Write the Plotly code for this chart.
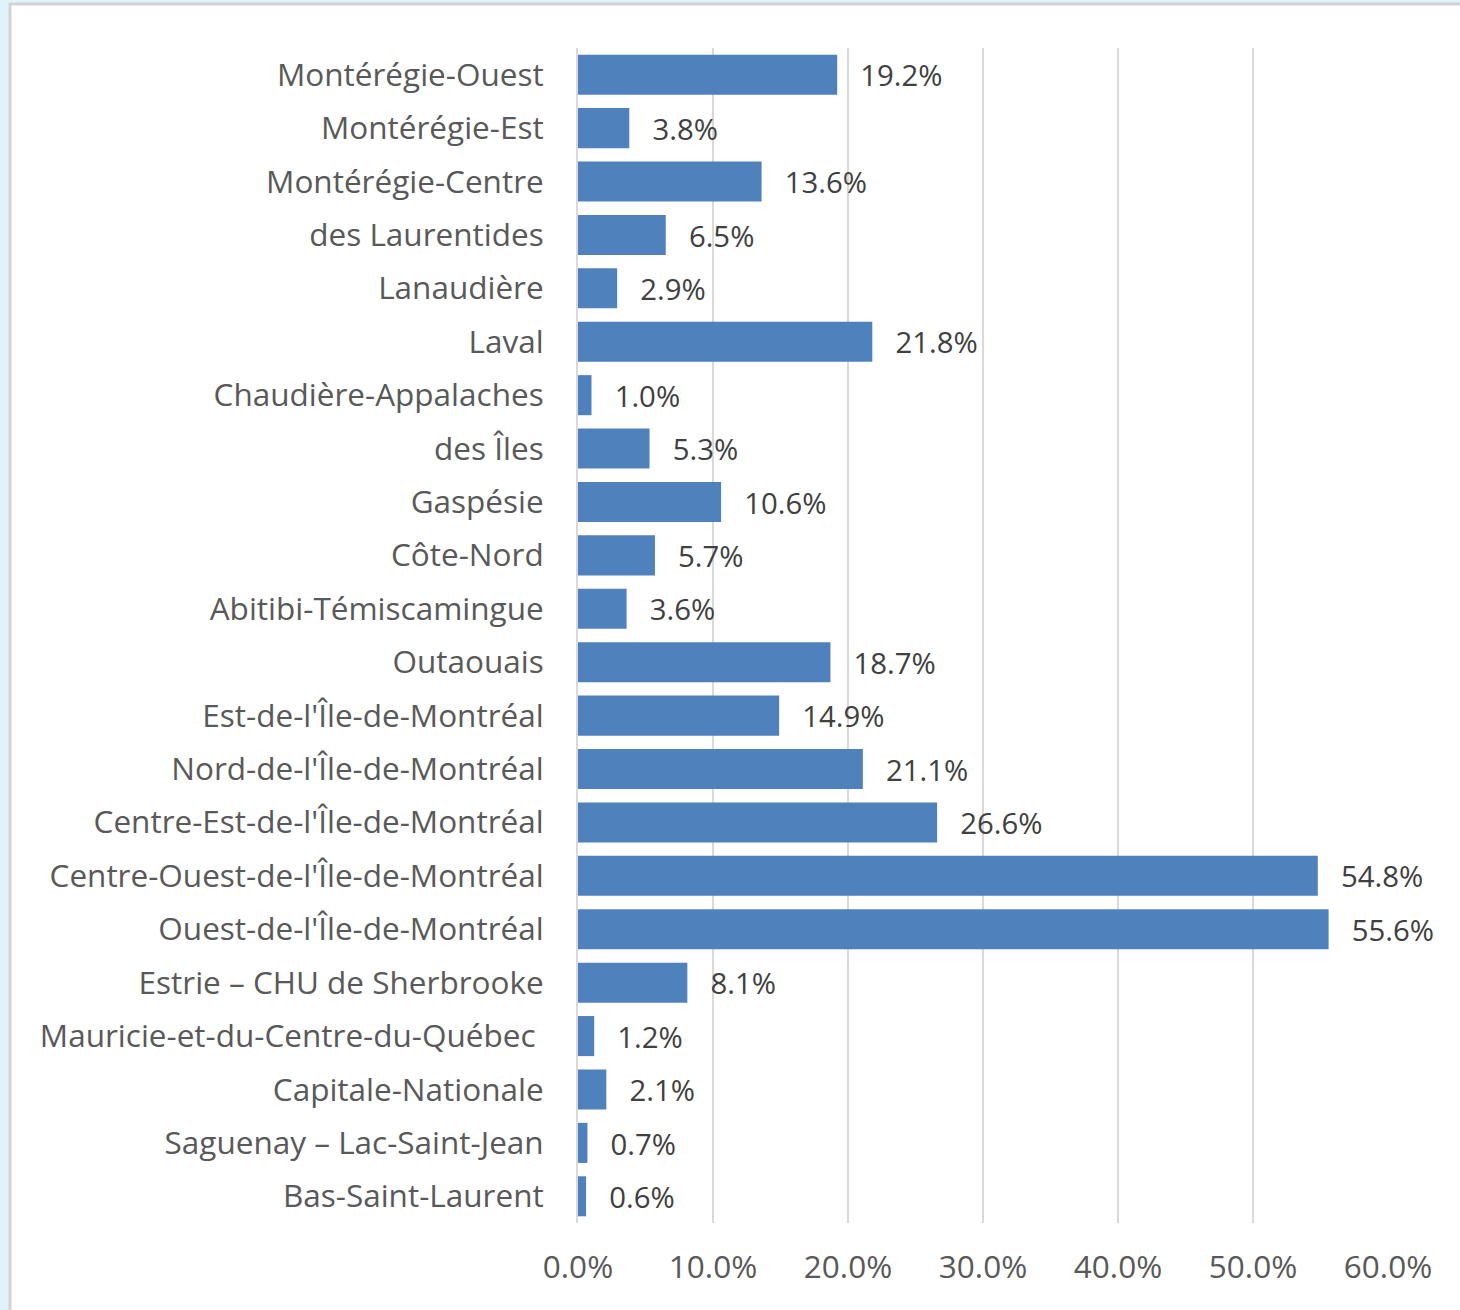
import plotly.graph_objects as go

regions = [
    "Montérégie-Ouest", "Montérégie-Est", "Montérégie-Centre", "des Laurentides",
    "Lanaudière", "Laval", "Chaudière-Appalaches", "des Îles", "Gaspésie",
    "Côte-Nord", "Abitibi-Témiscamingue", "Outaouais", "Est-de-l'Île-de-Montréal",
    "Nord-de-l'Île-de-Montréal", "Centre-Est-de-l'Île-de-Montréal",
    "Centre-Ouest-de-l'Île-de-Montréal", "Ouest-de-l'Île-de-Montréal",
    "Estrie – CHU de Sherbrooke", "Mauricie-et-du-Centre-du-Québec ",
    "Capitale-Nationale", "Saguenay – Lac-Saint-Jean", "Bas-Saint-Laurent",
]
values = [19.2, 3.8, 13.6, 6.5, 2.9, 21.8, 1.0, 5.3, 10.6, 5.7, 3.6, 18.7,
          14.9, 21.1, 26.6, 54.8, 55.6, 8.1, 1.2, 2.1, 0.7, 0.6]
tick_vals = [0, 10, 20, 30, 40, 50, 60]
tick_text = ["0.0%", "10.0%", "20.0%", "30.0%", "40.0%", "50.0%", "60.0%"]

FONT = "Open Sans"
GREY = "#595959"
FS = 31.5

fig = go.Figure(go.Bar(
    x=values, y=regions, orientation="h",
    marker=dict(color="#4f81bd", line=dict(width=0)),
    width=0.75,
    text=["  \u2009" + f"{v:.1f}%" for v in values],
    textposition="outside",
    textfont=dict(family=FONT, size=FS, color="#404040"),
    cliponaxis=False,
))

W, H = 1460, 1310
L, R, T, B = 578, 72, 48, 87
pw, ph = W - L - R, H - T - B

def px_x(p):
    return (p - L) / pw

def px_y(p):
    return (H - B - p) / ph

fig.add_shape(type="rect", xref="paper", yref="paper",
              x0=px_x(10), x1=px_x(1475), y0=px_y(1320), y1=px_y(4),
              fillcolor="white", line=dict(color="#d4d4d4", width=3), layer="below")

fig.update_layout(
    width=W, height=H,
    margin=dict(l=L, r=R, t=T, b=B),
    paper_bgcolor="#dff3fa",
    plot_bgcolor="white",
    showlegend=False,
    font=dict(family=FONT, size=FS, color=GREY),
    xaxis=dict(range=[0, 60], tickvals=tick_vals, ticktext=tick_text,
               showgrid=True, gridcolor="#d9d9d9", gridwidth=2,
               zeroline=False, showline=False, ticks="",
               tickfont=dict(family=FONT, size=FS, color=GREY),
               ticklabelstandoff=22),
    yaxis=dict(categoryorder="array", categoryarray=regions,
               autorange="reversed", ticks="", showgrid=False,
               showline=True, linecolor="#d9d9d9", linewidth=2,
               tickfont=dict(family=FONT, size=FS, color=GREY),
               ticklabelstandoff=26),
    bargap=0.25,
)

fig.write_html("out.html", config={"displayModeBar": False},
               post_script="document.body.style.margin='0';document.body.style.background='#dff3fa';")
